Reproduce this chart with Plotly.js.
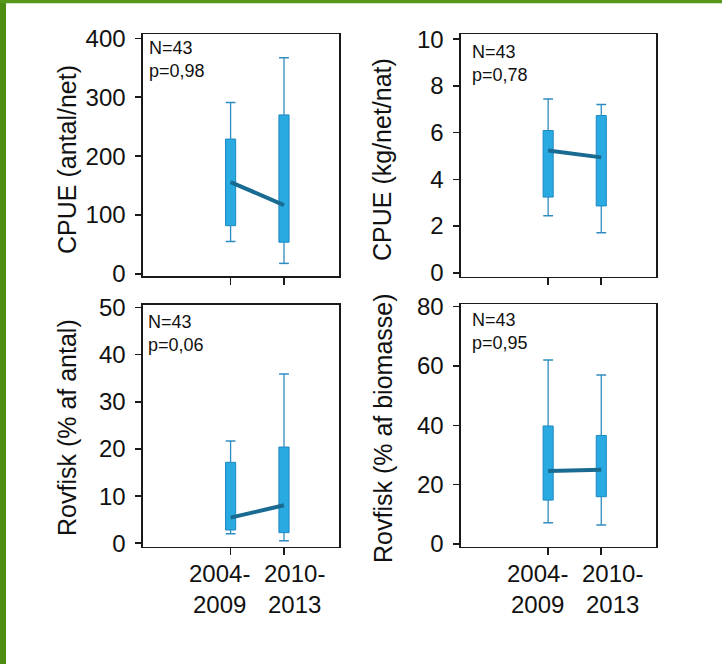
<!DOCTYPE html>
<html><head><meta charset="utf-8">
<script src="https://cdn.plot.ly/plotly-3.0.1.min.js"></script>
<style>html,body{margin:0;padding:0;background:#fff}#chart{width:722px;height:664px}</style>
</head><body><div id="chart"></div><script>
// ---- data ----
const categories = ["2004-<br>2009", "2010-<br>2013"];

// Panel 1: CPUE (antal/net)
const cpueAntalLow = [55, 18];
const cpueAntalQ1 = [82, 54];
const cpueAntalMedian = [156, 117];
const cpueAntalQ3 = [229, 270];
const cpueAntalHigh = [291, 367];

// Panel 2: CPUE (kg/net/nat)
const cpueKgLow = [2.44, 1.71];
const cpueKgQ1 = [3.24, 2.86];
const cpueKgMedian = [5.23, 4.94];
const cpueKgQ3 = [6.09, 6.73];
const cpueKgHigh = [7.44, 7.2];

// Panel 3: Rovfisk (% af antal)
const rovAntalLow = [2.05, 0.56];
const rovAntalQ1 = [2.82, 2.26];
const rovAntalMedian = [5.44, 8.05];
const rovAntalQ3 = [17.16, 20.4];
const rovAntalHigh = [21.7, 35.9];

// Panel 4: Rovfisk (% af biomasse)
const rovBioLow = [7.2, 6.4];
const rovBioQ1 = [14.8, 15.95];
const rovBioMedian = [24.6, 25.06];
const rovBioQ3 = [39.8, 36.6];
const rovBioHigh = [62.0, 57.0];

const yTitles = ["CPUE (antal/net)", "CPUE (kg/net/nat)", "Rovfisk (% af antal)", "Rovfisk (% af biomasse)"];
const panelNotes = ["N=43<br>p=0,98", "N=43<br>p=0,78", "N=43<br>p=0,06", "N=43<br>p=0,95"];

// ---- build ----
const panels = [
  {sfx: "",  low: cpueAntalLow, q1: cpueAntalQ1, med: cpueAntalMedian, q3: cpueAntalQ3, high: cpueAntalHigh},
  {sfx: "2", low: cpueKgLow, q1: cpueKgQ1, med: cpueKgMedian, q3: cpueKgQ3, high: cpueKgHigh},
  {sfx: "3", low: rovAntalLow, q1: rovAntalQ1, med: rovAntalMedian, q3: rovAntalQ3, high: rovAntalHigh},
  {sfx: "4", low: rovBioLow, q1: rovBioQ1, med: rovBioMedian, q3: rovBioQ3, high: rovBioHigh}
];

const boxFill = "#29abe2", boxLine = "#1d88c1", whiskerColor = "#2f8cc0", medianColor = "#1a6b91";
const traces = [];
panels.forEach(p => {
  const xa = "x" + p.sfx, ya = "y" + p.sfx;
  traces.push({type: "bar", x: categories, y: p.q3.map((v, i) => v - p.q1[i]), base: p.q1,
    width: 0.19, marker: {color: boxFill, line: {color: boxLine, width: 1}},
    xaxis: xa, yaxis: ya, hoverinfo: "skip", showlegend: false});
  const wx = [], wy = [], cx = [], cy = [];
  categories.forEach((c, i) => {
    wx.push(c, c, null, c, c, null);
    wy.push(p.q3[i], p.high[i], null, p.low[i], p.q1[i], null);
    cx.push(c, c); cy.push(p.high[i], p.low[i]);
  });
  traces.push({type: "scatter", mode: "lines", x: wx, y: wy, line: {color: whiskerColor, width: 1.3},
    xaxis: xa, yaxis: ya, hoverinfo: "skip", showlegend: false, connectgaps: false});
  traces.push({type: "scatter", mode: "markers", x: cx, y: cy,
    marker: {symbol: "line-ew", size: 7, line: {color: whiskerColor, width: 1.5}},
    xaxis: xa, yaxis: ya, hoverinfo: "skip", showlegend: false});
  traces.push({type: "scatter", mode: "lines", x: categories, y: p.med,
    line: {color: medianColor, width: 4}, xaxis: xa, yaxis: ya, hoverinfo: "skip", showlegend: false});
});

const W = 722, H = 664;
const fx = px => px / W, fy = px => 1 - px / H;
const frame = {
  x:  [143, 339], x2: [461, 656], x3: [143, 339], x4: [461, 656],
  y:  [34.3, 276], y2: [34.3, 276.7], y3: [305, 546.7], y4: [304.3, 546.7]
};
const yRanges = [[-3.4, 406.8], [-0.17, 10.21], [-0.72, 50.5], [-0.9, 80.8]];
const yDticks = [100, 2, 10, 20];
const font = {family: "Liberation Sans, Arial, sans-serif", color: "#111"};

const layout = {
  width: W, height: H, margin: {l: 0, r: 0, t: 0, b: 0},
  paper_bgcolor: "#fff", plot_bgcolor: "#fff", showlegend: false,
  font: font, barmode: "overlay",
  shapes: [
    {type: "rect", xref: "paper", yref: "paper", x0: 0, x1: fx(6), y0: 0, y1: 1, fillcolor: "#4c8c13", line: {width: 0}, layer: "above"},
    {type: "rect", xref: "paper", yref: "paper", x0: 0, x1: 1, y0: fy(3.3), y1: 1, fillcolor: "#56971c", line: {width: 0}, layer: "above"}
  ],
  annotations: []
};

panels.forEach((p, k) => {
  const xk = "xaxis" + p.sfx, yk = "yaxis" + p.sfx;
  const fxr = frame["x" + p.sfx], fyr = frame["y" + p.sfx];
  layout[xk] = {
    domain: [fx(fxr[0]), fx(fxr[1])], anchor: "y" + p.sfx, type: "category",
    categoryorder: "array", categoryarray: categories, range: [-1.64, 2.03],
    showline: true, mirror: true, linecolor: "#1a1a1a", linewidth: 1.6,
    ticks: "outside", ticklen: 7, tickwidth: 1.6, tickcolor: "#1a1a1a",
    showticklabels: false, showgrid: false, zeroline: false, fixedrange: true
  };
  layout[yk] = {
    domain: [fy(fyr[1]), fy(fyr[0])], anchor: "x" + p.sfx,
    range: yRanges[k], dtick: yDticks[k], tick0: 0,
    showline: true, mirror: true, linecolor: "#1a1a1a", linewidth: 1.6,
    ticks: "outside", ticklen: 6, tickwidth: 1.6, tickcolor: "#1a1a1a",
    tickfont: {size: 24, color: "#111"}, ticklabelstandoff: 5,
    showgrid: false, zeroline: false, fixedrange: true
  };
});

// y titles
const titlePos = [[67, 160], [382, 160], [67, 428], [383, 428]];
yTitles.forEach((t, k) => {
  layout.annotations.push({text: t, xref: "paper", yref: "paper", x: fx(titlePos[k][0]), y: fy(titlePos[k][1]),
    xanchor: "center", yanchor: "middle", textangle: -90, showarrow: false, font: {size: 25, color: "#111"}});
});
// notes
const noteShift = [[4, -2], [9, -6], [3, -5], [9, -4]];
panelNotes.forEach((t, k) => {
  const s = panels[k].sfx;
  layout.annotations.push({text: t, xref: "x" + s + " domain", yref: "y" + s + " domain", x: 0, y: 1,
    xanchor: "left", yanchor: "top", align: "left", showarrow: false,
    xshift: noteShift[k][0], yshift: noteShift[k][1], font: {size: 18, color: "#111"}});
});
// x tick labels for bottom panels
const labelShift = [-11, 11];
["3", "4"].forEach(s => {
  categories.forEach((c, i) => {
    layout.annotations.push({text: c, xref: "x" + s, yref: "paper", x: i, y: fy(589),
      xanchor: "center", yanchor: "middle", align: "center", showarrow: false,
      xshift: labelShift[i], font: {size: 24, color: "#111"}});
  });
});

Plotly.newPlot("chart", traces, layout, {staticPlot: true, displayModeBar: false});
</script></body></html>
